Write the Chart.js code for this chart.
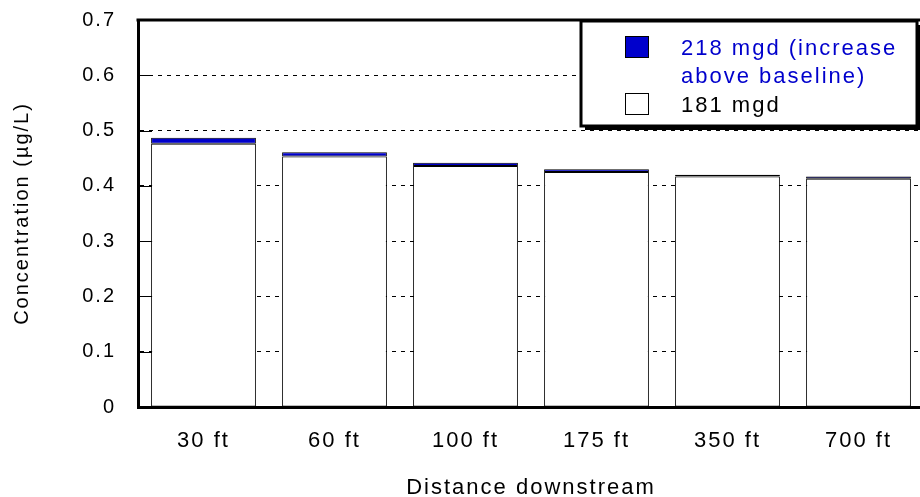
<!DOCTYPE html>
<html>
<head>
<meta charset="utf-8">
<script src="https://cdn.jsdelivr.net/npm/chart.js@4.4.1/dist/chart.umd.min.js"></script>
<style>
    html, body { margin: 0; padding: 0; background: #fff; overflow: hidden; }
    #wrap { width: 920px; height: 497px; overflow: hidden; position: relative; }
    #box { width: 930px; height: 501px; }
</style>
</head>
<body>
<div id="wrap"><div id="box"><canvas id="concChart"></canvas></div></div>
<script>
// Data
const distances = ['30 ft', '60 ft', '100 ft', '175 ft', '350 ft', '700 ft'];
const baseline181 = [0.476, 0.453, 0.436, 0.425, 0.417, 0.413];
const increase218 = [0.011, 0.008, 0.006, 0.005, 0.003, 0.004];
const yTickLabels = ['0', '0.1', '0.2', '0.3', '0.4', '0.5', '0.6', '0.7'];
const legendLines218 = ['218 mgd (increase', 'above baseline)'];
const legendLines181 = ['181 mgd'];

const FONT = "'Liberation Sans', Arial, sans-serif";
const BLUE = '#0000CC';

// Huruf agak renggang seperti gambar aslinya
const spacingPlugin = {
    id: 'spacing',
    beforeInit(chart) { chart.ctx.letterSpacing = '2px'; },
    beforeDraw(chart) { chart.ctx.letterSpacing = '2px'; }
};

// Garis bingkai atas + tick kecil di dalam sumbu Y
const framePlugin = {
    id: 'frame',
    beforeDatasetsDraw(chart) {
        const { ctx, chartArea, scales } = chart;
        ctx.save();
        ctx.strokeStyle = '#000';
        ctx.lineWidth = 1;
        scales.y.ticks.forEach((t, i) => {
            const y = Math.round(scales.y.getPixelForTick(i)) + 0.5;
            ctx.beginPath();
            ctx.moveTo(chartArea.left, y);
            ctx.lineTo(chartArea.left + 14, y);
            ctx.stroke();
        });
        ctx.restore();
    },
    afterDraw(chart) {
        const { ctx, chartArea } = chart;
        ctx.save();
        ctx.strokeStyle = '#000';
        ctx.lineWidth = 3;
        ctx.beginPath();
        ctx.moveTo(chartArea.left - 1.5, chartArea.top);
        ctx.lineTo(chartArea.right + 5, chartArea.top);
        ctx.stroke();
        ctx.restore();
    }
};

// Legenda kotak dengan bayangan
const boxLegendPlugin = {
    id: 'boxLegend',
    afterDraw(chart) {
        const ctx = chart.ctx;
        const x = 581, y = 21, w = 336, h = 105;
        ctx.save();
        ctx.fillStyle = '#000';
        ctx.fillRect(x + 4, y + 4, w, h);
        ctx.fillStyle = '#fff';
        ctx.fillRect(x, y, w, h);
        ctx.strokeStyle = '#000';
        ctx.lineWidth = 3;
        ctx.strokeRect(x, y, w, h);

        const ds = chart.data.datasets;
        ctx.lineWidth = 1;
        // 218 mgd
        ctx.fillStyle = ds[1].backgroundColor;
        ctx.fillRect(625.5, 36.5, 23, 21);
        ctx.strokeRect(625.5, 36.5, 23, 21);
        // 181 mgd
        ctx.fillStyle = ds[0].backgroundColor;
        ctx.fillRect(625.5, 93.5, 23, 21);
        ctx.strokeRect(625.5, 93.5, 23, 21);

        ctx.letterSpacing = '2px';
        ctx.font = '22px ' + FONT;
        ctx.textBaseline = 'alphabetic';
        ctx.textAlign = 'left';
        ctx.fillStyle = BLUE;
        legendLines218.forEach((line, i) => ctx.fillText(line, 681, 55 + i * 28));
        ctx.fillStyle = '#000';
        legendLines181.forEach((line, i) => ctx.fillText(line, 681, 112 + i * 28));
        ctx.restore();
    }
};

const ctx = document.getElementById('concChart').getContext('2d');
new Chart(ctx, {
    type: 'bar',
    data: {
        labels: distances,
        datasets: [{
            label: '181 mgd',
            data: baseline181,
            backgroundColor: '#ffffff',
            borderColor: '#000',
            borderWidth: 1,
            borderSkipped: false,
            categoryPercentage: 1.0,
            barPercentage: 0.8
        }, {
            label: '218 mgd (increase above baseline)',
            data: increase218,
            backgroundColor: BLUE,
            borderColor: '#000',
            borderWidth: 1,
            borderSkipped: false,
            categoryPercentage: 1.0,
            barPercentage: 0.8
        }]
    },
    options: {
        responsive: true,
        maintainAspectRatio: false,
        animation: false,
        layout: { padding: { top: 20, right: 6, left: 0, bottom: 0 } },
        plugins: {
            legend: { display: false },
            tooltip: { enabled: false }
        },
        scales: {
            x: {
                stacked: true,
                grid: { display: false },
                border: { display: true, color: '#000', width: 3 },
                ticks: { color: '#000', font: { family: FONT, size: 22 }, padding: 13 },
                title: {
                    display: true,
                    text: 'Distance downstream',
                    color: '#000',
                    font: { family: FONT, size: 22 },
                    padding: { top: 20, bottom: 0 }
                },
                afterFit(scale) { scale.height = 94; }
            },
            y: {
                stacked: true,
                min: 0,
                max: 0.7,
                grid: { color: '#000', lineWidth: 1, drawTicks: false },
                border: { display: true, color: '#000', width: 3, dash: [4, 5] },
                ticks: {
                    stepSize: 0.1,
                    color: '#000',
                    padding: 22,
                    font: { family: FONT, size: 20 },
                    callback: (v, i) => yTickLabels[i]
                },
                title: {
                    display: true,
                    text: 'Concentration (\u00b5g/L)',
                    color: '#000',
                    font: { family: FONT, size: 20 },
                    padding: { top: 10, bottom: 0 }
                },
                afterFit(scale) {
                    scale.width = 138;
                    scale.paddingTop = 0;
                    scale.paddingBottom = 0;
                }
            }
        }
    },
    plugins: [spacingPlugin, framePlugin, boxLegendPlugin]
});
</script>
</body>
</html>
